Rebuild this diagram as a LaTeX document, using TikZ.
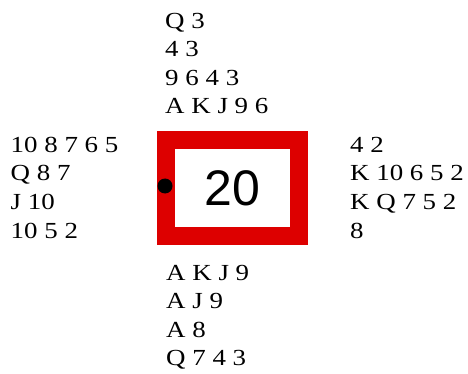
\documentclass[tikz,border=0pt]{standalone}
\usepackage{fontspec}
\setmainfont{Liberation Serif}[FakeStretch=1.17]
\newfontfamily\numfont{Liberation Sans}
\usepackage{tikz}
\usetikzlibrary{positioning}
\definecolor{boardred}{RGB}{221,0,0}
\tikzset{
    hand/.style={anchor=base west, inner sep=0pt, font=\fontsize{23}{28.5}\selectfont},
    board/.style={draw=boardred, line width=18pt, fill=white, minimum width=133.5pt, minimum height=95.5pt, inner sep=0pt, font=\numfont\fontsize{50}{50}\selectfont}
}

\begin{document}
\begin{tikzpicture}[x=1pt, y=-1pt]
    \useasboundingbox (0, 0) rectangle (468, 374);

    % 牌桌中央的牌板
    \node[board] (brd) at (232.5, 188) {20};
    % 发牌人标记
    \fill (165, 186) circle (7.5pt) coordinate (dealer);

    % 北家
    \foreach \cards [count=\i] in {Q 3, 4 3, 9 6 4 3, A K J 9 6} {
        \node[hand] (n\i) at (165, 28.5+28.5*\i-28.5) {\cards};
    }
    % 西家
    \foreach \cards [count=\i] in {10 8 7 6 5, Q 8 7, J 10, 10 5 2} {
        \node[hand] (w\i) at (10.5, 152.5+28.5*\i-28.5) {\cards};
    }
    % 东家
    \foreach \cards [count=\i] in {4 2, K 10 6 5 2, K Q 7 5 2, 8} {
        \node[hand] (e\i) at (350, 152.5+28.5*\i-28.5) {\cards};
    }
    % 南家
    \foreach \cards [count=\i] in {A K J 9, A J 9, A 8, Q 7 4 3} {
        \node[hand] (s\i) at (166, 280+28.5*\i-28.5) {\cards};
    }
\end{tikzpicture}
\end{document}
